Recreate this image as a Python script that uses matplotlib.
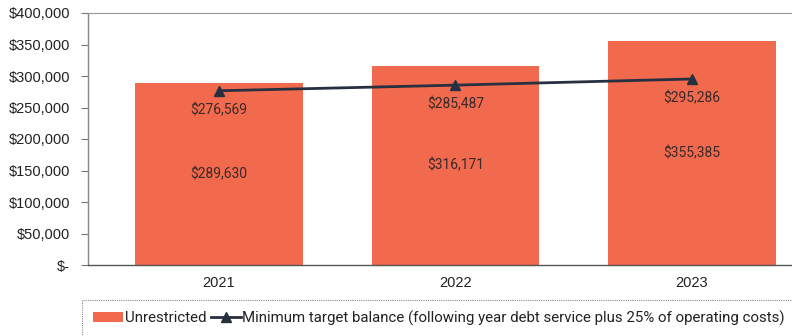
import matplotlib.pyplot as plt
from matplotlib.patches import Rectangle
from matplotlib.ticker import FuncFormatter

# data
years = ['2021', '2022', '2023']
unrestricted = [289630, 316171, 355385]
min_target = [276569, 285487, 295286]

bar_color = '#F26A4D'
line_color = '#263040'

fig = plt.figure(figsize=(7.92, 3.36), dpi=100)
ax = fig.add_axes([88 / 792, 1 - 265 / 336, 704 / 792, 252 / 336])

x = range(len(years))
bars = ax.bar(x, unrestricted, width=0.71, color=bar_color, label='Unrestricted', zorder=2)
line, = ax.plot(x, min_target, color=line_color, lw=2, marker='^', markersize=7,
                label='Minimum target balance (following year debt service plus 25% of operating costs)', zorder=3)

# labels
for i, v in enumerate(unrestricted):
    ax.text(i, v / 2, '${:,}'.format(v), ha='center', va='center',
            fontsize=10, family='Roboto', color='#3a2a2a', zorder=4)
for i, v in enumerate(min_target):
    ax.annotate('${:,}'.format(v), (i, v), xytext=(0, -14), textcoords='offset points',
                ha='center', va='center', fontsize=10, family='Roboto', color='#3a2a2a', zorder=4)

ax.set_xlim(-0.554, 2.423)
ax.set_ylim(0, 400000)
ax.set_yticks(range(0, 400001, 50000))
ax.yaxis.set_major_formatter(FuncFormatter(lambda v, p: '$-' if v == 0 else '${:,.0f}'.format(v)))
ax.set_xticks(list(x))
ax.set_xticklabels(years)
ax.tick_params(axis='x', length=0, pad=8, labelsize=10.5)
ax.tick_params(axis='y', length=5, width=0.8, color='#777777', pad=8, labelsize=10.5)
for lab in ax.get_xticklabels() + ax.get_yticklabels():
    lab.set_family('Liberation Sans')
    lab.set_color('#222222')

ax.spines['right'].set_visible(False)
ax.spines['top'].set_color('#999999')
ax.spines['top'].set_linestyle((0, (3, 1)))
ax.spines['top'].set_linewidth(0.8)
ax.spines['left'].set_color('#888888')
ax.spines['left'].set_linewidth(1)
ax.spines['bottom'].set_color('#555555')
ax.spines['bottom'].set_linewidth(1)

# legend box
fig.patches.append(Rectangle((82 / 792, -0.05), 0.95, 0.05 + 1 - 300 / 336, transform=fig.transFigure,
                             fill=False, edgecolor='#888888', lw=0.8, linestyle=(0, (1, 1)), clip_on=False))
leg = fig.legend(handles=[bars, line], loc='center left', bbox_to_anchor=(93 / 792, 1 - 318 / 336),
                 frameon=False, ncol=2, prop={'family': 'Roboto', 'size': 10.8},
                 handlelength=2.0, handletextpad=0.1, columnspacing=0.3, borderaxespad=0,
                 borderpad=0)
for t in leg.get_texts():
    t.set_color('#222222')

fig.savefig('out.png', dpi=100)
